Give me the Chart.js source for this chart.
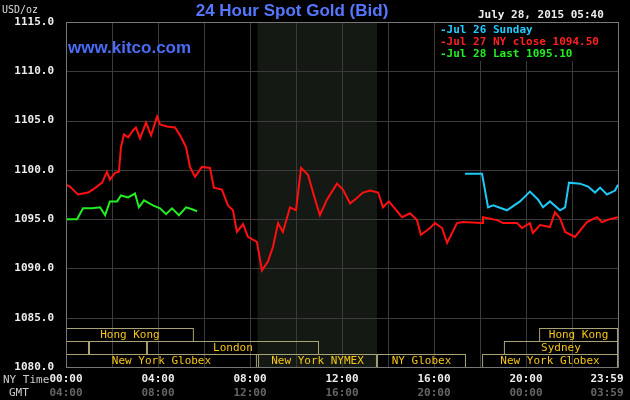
<!DOCTYPE html><html><head><meta charset="utf-8">
<script src="https://cdn.jsdelivr.net/npm/chart.js@4"></script>
<style>html,body{margin:0;background:#000}#c{display:block}</style></head><body>
<div style="width:630px;height:400px"><canvas id="c"></canvas></div>
<script>
const redData=[[0,1098.5],[.17,1098.3],[.52,1097.5],[.96,1097.7],[1.17,1098.0],[1.57,1098.7],[1.78,1099.8],[1.91,1099.0],[2.13,1099.7],[2.3,1099.8],[2.39,1102.3],[2.52,1103.6],[2.7,1103.3],[2.91,1104.0],[3.04,1104.3],[3.22,1103.2],[3.48,1104.8],[3.7,1103.5],[3.96,1105.4],[4.09,1104.6],[4.39,1104.4],[4.74,1104.3],[4.96,1103.5],[5.22,1102.3],[5.39,1100.3],[5.61,1099.3],[5.91,1100.3],[6.26,1100.2],[6.43,1098.2],[6.78,1098.0],[7.04,1096.4],[7.26,1095.9],[7.43,1093.7],[7.7,1094.5],[7.91,1093.2],[8.3,1092.7],[8.52,1089.8],[8.78,1090.7],[9.0,1092.2],[9.22,1094.6],[9.43,1093.7],[9.74,1096.2],[10.0,1095.9],[10.22,1100.2],[10.52,1099.5],[10.83,1097.0],[11.04,1095.4],[11.35,1097.0],[11.78,1098.6],[12.04,1098.0],[12.35,1096.6],[12.57,1097.0],[12.91,1097.7],[13.22,1097.9],[13.57,1097.7],[13.78,1096.2],[14.04,1096.8],[14.61,1095.2],[14.96,1095.6],[15.26,1094.9],[15.43,1093.4],[15.83,1094.1],[16.04,1094.6],[16.35,1094.1],[16.57,1092.6],[17.0,1094.6],[17.26,1094.7],[18.09,1094.6],[18.13,1095.2],[18.74,1094.9],[19.0,1094.6],[19.61,1094.6],[19.83,1094.1],[20.17,1094.6],[20.3,1093.6],[20.61,1094.4],[21.04,1094.2],[21.26,1095.7],[21.48,1095.1],[21.7,1093.7],[22.13,1093.2],[22.65,1094.7],[23.09,1095.2],[23.3,1094.7],[23.65,1095.0],[24.0,1095.2]];
const blueData=[[17.35,1099.6],[18.09,1099.6],[18.35,1096.2],[18.57,1096.4],[19.17,1095.9],[19.74,1096.8],[20.17,1097.8],[20.52,1097.0],[20.74,1096.2],[21.04,1096.8],[21.48,1095.9],[21.7,1096.2],[21.87,1098.7],[22.35,1098.6],[22.7,1098.3],[23.0,1097.7],[23.22,1098.2],[23.52,1097.5],[23.87,1097.9],[24.0,1098.5]];
const greenData=[[0,1095.0],[.48,1095.0],[.74,1096.1],[1.13,1096.1],[1.48,1096.2],[1.7,1095.4],[1.91,1096.8],[2.22,1096.8],[2.39,1097.4],[2.7,1097.2],[3.0,1097.6],[3.17,1096.2],[3.39,1096.9],[3.78,1096.4],[4.09,1096.1],[4.35,1095.5],[4.61,1096.1],[4.91,1095.4],[5.22,1096.2],[5.48,1096.0],[5.7,1095.8]];
const legendLabels=['Jul 26 Sunday','Jul 27 NY close 1094.50','Jul 28 Last 1095.10'];
const nyLabels=['00:00','04:00','08:00','12:00','16:00','20:00','23:59'];
const gmtLabels=['04:00','08:00','12:00','16:00','20:00','00:00','03:59'];
const sessions=[[0,0,5.56,'Hong Kong'],[0,20.57,24,'Hong Kong'],[1,0,1,''],[1,1,3.52,''],[1,3.52,11.0,'London'],[1,19.04,24,'Sydney'],[2,0,8.3,'New York Globex'],[2,8.35,13.52,'New York NYMEX'],[2,13.52,17.39,'NY Globex'],[2,18.09,24,'New York Globex']];
const shade=[8.33,13.52];
const MONO='bold 11px "DejaVu Sans Mono"';
const pts=a=>a.map(p=>({x:p[0],y:p[1]}));
const deco={id:'deco',
beforeDatasetsDraw(ch){const c=ch.ctx,x=ch.scales.x,a=ch.chartArea;c.save();c.fillStyle='#141914';
 c.fillRect(x.getPixelForValue(shade[0]),a.top,x.getPixelForValue(shade[1])-x.getPixelForValue(shade[0]),a.bottom-a.top);
 c.strokeStyle='#3a3a3a';c.lineWidth=1;for(let h=2;h<24;h+=2){const px=Math.round(x.getPixelForValue(h))+.5;c.beginPath();c.moveTo(px,a.top);c.lineTo(px,a.bottom);c.stroke();}
 const y=ch.scales.y;for(let v=1085;v<1115;v+=5){const py=Math.round(y.getPixelForValue(v))+.5;c.beginPath();c.moveTo(a.left,py);c.lineTo(a.right,py);c.stroke();}
 const rh=13;c.font='11px "DejaVu Sans Mono"';c.textAlign='center';c.textBaseline='middle';
 sessions.forEach(s=>{const x0=x.getPixelForValue(s[1]),x1=x.getPixelForValue(s[2]),y0=a.bottom-rh*(3-s[0]);
  c.strokeStyle='#a9a376';c.strokeRect(x0+.5,y0+.5,x1-x0-1,rh);if(s[3]){c.fillStyle='#f5c518';c.fillText(s[3],(x0+x1)/2,y0+rh/2+1);}});
 c.restore();},
afterDraw(ch){const c=ch.ctx,a=ch.chartArea,x=ch.scales.x;c.save();
 c.strokeStyle='#777';c.lineWidth=1;c.strokeRect(a.left+.5,a.top+.5,a.right-a.left,a.bottom-a.top);
 c.textBaseline='middle';c.font='bold 17px "Liberation Sans"';c.fillStyle='#5577ff';c.textAlign='center';c.fillText('24 Hour Spot Gold (Bid)',292,11);
 c.textAlign='left';c.font='bold 17px "Liberation Sans"';c.fillStyle='#4a6cf7';c.fillText('www.kitco.com',68,48);
 c.font='10px "DejaVu Sans Mono"';c.fillStyle='#ddd';c.fillText('USD/oz',2,10);
 c.font=MONO;c.fillStyle='#eee';c.fillText('July 28, 2015 05:40',478,15);
 c.fillStyle='#000';c.fillRect(437,23,a.right-438,38);
 const cols=['#22ccff','#ff2020','#22ee22'];legendLabels.forEach((t,i)=>{c.fillStyle=cols[i];c.fillText('-'+t,440,30+i*12);});
 c.font='11px "DejaVu Sans Mono"';c.fillStyle='#ccc';c.fillText('NY Time',3,380);c.fillText('GMT',9,393);
 c.font=MONO;c.textAlign='center';
 nyLabels.forEach((t,i)=>{const px=Math.min(x.getPixelForValue(i*4),607);c.fillStyle='#eee';c.fillText(t,px,379);c.fillStyle='#666';c.fillText(gmtLabels[i],px,393);});
 c.restore();}};
new Chart(document.getElementById('c'),{type:'line',
 data:{datasets:[
  {data:pts(redData),borderColor:'#ff1010',borderWidth:2},
  {data:pts(greenData),borderColor:'#22ee22',borderWidth:2},
  {data:pts(blueData),borderColor:'#1ec8f5',borderWidth:2}]},
 options:{responsive:true,maintainAspectRatio:false,animation:false,
  layout:{padding:{top:22,right:12,left:0,bottom:0}},
  elements:{point:{radius:0},line:{tension:0}},
  plugins:{legend:{display:false},tooltip:{enabled:false}},
  scales:{
   x:{type:'linear',min:0,max:24,afterFit:s=>{s.height=33},grid:{display:false},border:{display:false},ticks:{display:false}},
   y:{min:1080,max:1115,afterFit:s=>{s.width=66},grid:{display:false},border:{display:false},
    ticks:{stepSize:5,color:'#eee',font:{family:'DejaVu Sans Mono',size:11,weight:'bold'},padding:4,callback:v=>v.toFixed(1)}}}},
 plugins:[deco]});
</script></body></html>
